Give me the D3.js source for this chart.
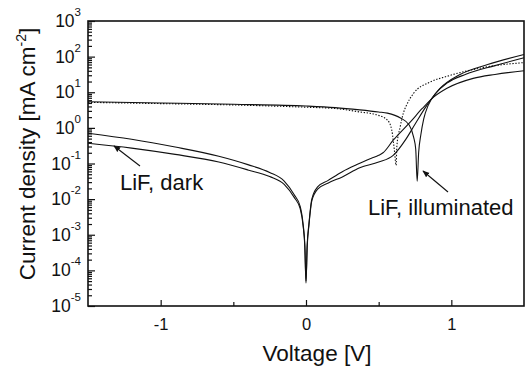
<!DOCTYPE html>
<html>
<head>
<meta charset="utf-8">
<script src="https://cdn.jsdelivr.net/npm/d3@7"></script>
<style>
body { margin: 0; background: #fff; }
svg { display: block; font-family: "Liberation Sans", Arial, Helvetica, sans-serif; }
</style>
</head>
<body>
<script>
// voltage [V] and current density [mA cm^-2]
var darkAV = [-1.5, -1.2, -0.9, -0.6, -0.4, -0.25, -0.15, -0.08, -0.04, -0.02, -0.008, 0, 0.008, 0.02, 0.04, 0.08, 0.15, 0.25, 0.35, 0.45, 0.5, 0.53, 0.6, 0.72, 0.8, 0.88, 0.97, 1.15, 1.3, 1.5];
var darkAJ = [0.71, 0.48, 0.29, 0.16, 0.093, 0.056, 0.032, 0.013, 0.0063, 0.002, 0.0005, 0.000044, 0.0005, 0.002, 0.01, 0.022, 0.033, 0.059, 0.093, 0.14, 0.17, 0.2, 0.45, 1.5, 3.5, 7.4, 12.9, 24.5, 31.6, 40];

var darkBV = [-1.5, -1.2, -0.9, -0.6, -0.4, -0.25, -0.15, -0.08, -0.04, -0.02, -0.008, 0, 0.008, 0.02, 0.04, 0.08, 0.15, 0.25, 0.37, 0.5, 0.6, 0.69, 0.75, 0.83, 0.92, 1.06, 1.25, 1.5];
var darkBJ = [0.37, 0.27, 0.18, 0.11, 0.066, 0.043, 0.026, 0.011, 0.0054, 0.0018, 0.00045, 0.00005, 0.00045, 0.0018, 0.0089, 0.019, 0.028, 0.042, 0.076, 0.11, 0.17, 0.5, 1.26, 4.2, 12.6, 31.6, 60, 115];

var illumV = [-1.5, -1.0, -0.5, 0, 0.2, 0.37, 0.5, 0.56, 0.65, 0.71, 0.74, 0.755, 0.765, 0.775, 0.79, 0.81, 0.84, 0.9, 0.97, 1.1, 1.3, 1.5];
var illumJ = [5.4, 5.0, 4.6, 4.1, 3.7, 3.2, 2.8, 2.6, 1.9, 1.2, 0.56, 0.25, 0.032, 0.2, 0.63, 1.8, 4.2, 10, 18, 32, 56, 93];

var illumDotV = [-1.5, -1.0, -0.5, 0, 0.2, 0.37, 0.49, 0.56, 0.59, 0.6, 0.61, 0.62, 0.625, 0.648, 0.67, 0.69, 0.74, 0.85, 0.97, 1.25, 1.5];
var illumDotJ = [5.2, 4.8, 4.4, 3.8, 3.5, 2.8, 2.3, 1.66, 0.87, 0.46, 0.2, 0.089, 0.3, 1.07, 2.6, 4.2, 9.3, 19, 28, 52, 68];

var xTicks = [-1, 0, 1];
var xMinor = [-0.5, 0.5];
var yExps = [-5, -4, -3, -2, -1, 0, 1, 2, 3];

var W = 531, H = 370;
var margin = {top: 21, right: 7, bottom: 64, left: 88},
    width = W - margin.left - margin.right,
    height = H - margin.top - margin.bottom;

var x = d3.scaleLinear().domain([-1.5, 1.5]).range([0, width]);
var y = d3.scaleLog().domain([1e-5, 1e3]).range([height, 0]);

var svg = d3.select("body").append("svg")
    .attr("width", W)
    .attr("height", H)
    .append("g")
    .attr("transform", "translate(" + margin.left + "," + margin.top + ")");

svg.append("defs").append("marker")
    .attr("id", "head")
    .attr("viewBox", "0 0 10 10")
    .attr("refX", 9).attr("refY", 5)
    .attr("markerWidth", 7).attr("markerHeight", 7)
    .attr("markerUnits", "userSpaceOnUse")
    .attr("orient", "auto")
    .append("path")
    .attr("d", "M0,1 L10,5 L0,9 Z")
    .attr("fill", "#111");

// minor log ticks
var yMinor = [];
yExps.slice(0, -1).forEach(e => {
    for (var k = 2; k < 10; k++) yMinor.push(k * Math.pow(10, e));
});

var yAxis = d3.axisLeft(y)
    .tickValues(yExps.map(e => Math.pow(10, e)))
    .tickSize(-7)
    .tickPadding(7)
    .tickFormat("");
var yAxisMinor = d3.axisLeft(y).tickValues(yMinor).tickSize(-4).tickFormat("");

var xAxis = d3.axisBottom(x).tickValues(xTicks).tickSize(-6).tickPadding(12).tickFormat(d3.format("d"));
var xAxisMinor = d3.axisBottom(x).tickValues(xMinor).tickSize(-4).tickFormat("");

var gy = svg.append("g").attr("class", "y axis").call(yAxis);
svg.append("g").attr("class", "y axis").call(yAxisMinor);
var gx = svg.append("g").attr("class", "x axis").attr("transform", "translate(0," + height + ")").call(xAxis);
svg.append("g").attr("class", "x axis").attr("transform", "translate(0," + height + ")").call(xAxisMinor);

svg.selectAll(".axis .domain").remove();
svg.selectAll(".axis line").attr("stroke", "#111").attr("stroke-width", 1.2);

gx.selectAll("text")
    .attr("fill", "#111")
    .style("font-size", "16.5px")
    .text(d => d < 0 ? "-" + Math.abs(d) : d);

gy.selectAll(".tick text")
    .attr("fill", "#111")
    .style("font-size", "17.5px")
    .each(function(d) {
        var t = d3.select(this);
        var e = Math.round(Math.log10(d));
        t.append("tspan").text("10");
        t.append("tspan").attr("dy", -11).style("font-size", "11.5px").text(e);
    });

// frame
svg.append("rect")
    .attr("width", width)
    .attr("height", height)
    .attr("fill", "none")
    .attr("stroke", "#111")
    .attr("stroke-width", 1.6);

var line = d3.line()
    .curve(d3.curveMonotoneX)
    .x(d => x(d[0]))
    .y(d => y(d[1]));

var curves = [
    {v: darkAV, j: darkAJ, dash: null},
    {v: darkBV, j: darkBJ, dash: null},
    {v: illumV, j: illumJ, dash: null},
    {v: illumDotV, j: illumDotJ, dash: "1.4,1.6"}
];

svg.selectAll(".line")
    .data(curves)
    .enter()
    .append("path")
    .attr("class", "line")
    .attr("fill", "none")
    .attr("stroke", "#111")
    .attr("stroke-width", 1.1)
    .attr("stroke-dasharray", d => d.dash)
    .attr("d", d => line(d.v.map((v, i) => [v, d.j[i]])));

// annotations
svg.append("line")
    .attr("x1", 140 - margin.left).attr("y1", 166 - margin.top)
    .attr("x2", 114 - margin.left).attr("y2", 146 - margin.top)
    .attr("stroke", "#111").attr("stroke-width", 1.1)
    .attr("marker-end", "url(#head)");
svg.append("text")
    .attr("x", 120 - margin.left).attr("y", 190 - margin.top)
    .style("font-size", "22px").attr("fill", "#111")
    .text("LiF, dark");

svg.append("line")
    .attr("x1", 448 - margin.left).attr("y1", 192 - margin.top)
    .attr("x2", 423 - margin.left).attr("y2", 171 - margin.top)
    .attr("stroke", "#111").attr("stroke-width", 1.1)
    .attr("marker-end", "url(#head)");
svg.append("text")
    .attr("x", 368 - margin.left).attr("y", 215 - margin.top)
    .style("font-size", "22px").attr("fill", "#111")
    .text("LiF, illuminated");

// axis titles
svg.append("text")
    .attr("x", 317 - margin.left).attr("y", 361 - margin.top)
    .attr("text-anchor", "middle")
    .style("font-size", "22.5px").attr("fill", "#111")
    .text("Voltage [V]");

var yt = svg.append("text")
    .attr("transform", "translate(" + (35 - margin.left) + "," + (154 - margin.top) + ") rotate(-90)")
    .attr("text-anchor", "middle")
    .style("font-size", "22.5px").attr("fill", "#111");
yt.append("tspan").text("Current density [mA cm");
yt.append("tspan").attr("dy", -9).style("font-size", "14px").text("-2");
yt.append("tspan").attr("dy", 9).text("]");
</script>
</body>
</html>
